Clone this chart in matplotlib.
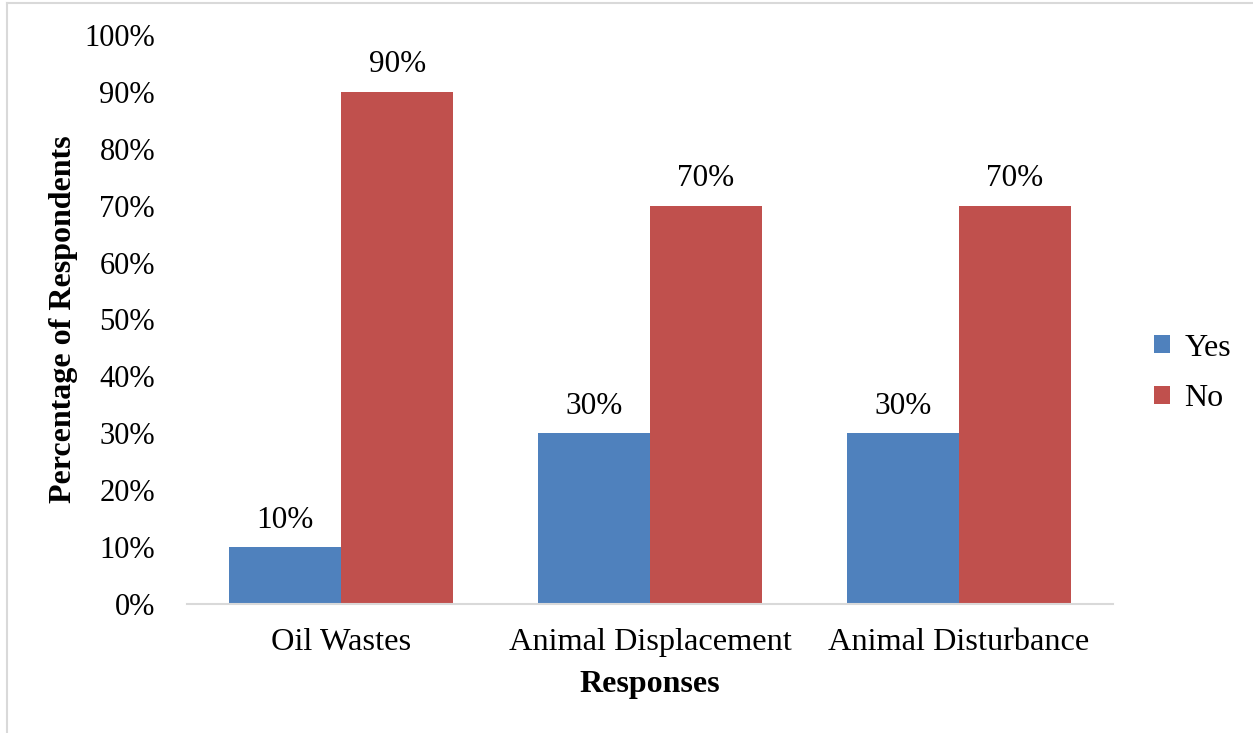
import matplotlib
matplotlib.use("Agg")
import matplotlib.pyplot as plt
import numpy as np
from matplotlib.lines import Line2D
from matplotlib.ticker import PercentFormatter

categories = ["Oil Wastes", "Animal Displacement", "Animal Disturbance"]
yes_vals = [10, 30, 30]
no_vals = [90, 70, 70]

plt.rcParams["font.family"] = ["Liberation Serif", "DejaVu Serif"]

fig = plt.figure(figsize=(12.53, 7.33), dpi=100)
ax = fig.add_axes([0.1492, 0.1760, 0.7391, 0.7763])

x = np.arange(len(categories))
w = 0.3625
b1 = ax.bar(x - w / 2, yes_vals, w, color="#4F81BD", label="Yes")
b2 = ax.bar(x + w / 2, no_vals, w, color="#C0504D", label="No")

for bars in (b1, b2):
    for r in bars:
        ax.text(r.get_x() + r.get_width() / 2, r.get_height() + 2.2,
                f"{r.get_height():.0f}%", ha="center", va="bottom", fontsize=22.5)

ax.set_xlim(-0.5, 2.5)
ax.set_ylim(0, 100)
ax.set_yticks(np.arange(0, 101, 10))
ax.yaxis.set_major_formatter(PercentFormatter(decimals=0))
ax.set_xticks(x)
ax.set_xticklabels(categories)
ax.tick_params(axis="y", length=0, labelsize=22, pad=23)
ax.tick_params(axis="x", length=0, labelsize=23.3, pad=17)

for s in ("left", "right", "top"):
    ax.spines[s].set_visible(False)
ax.spines["bottom"].set_color("#d9d9d9")
ax.spines["bottom"].set_linewidth(1.5)

ax.set_ylabel("Percentage of Respondents", fontsize=23, fontweight="bold", va="center")
ax.yaxis.set_label_coords(-0.1335, 0.5)
ax.set_xlabel("Responses", fontsize=23, fontweight="bold", va="center")
ax.xaxis.set_label_coords(0.5, -0.142)

ax.legend(loc="center left", bbox_to_anchor=(1.013, 0.405), frameon=False,
          fontsize=23, handlelength=0.5, handleheight=0.5, handletextpad=0.45,
          labelspacing=0.68)

# chart frame edges
fig.add_artist(Line2D([7 / 1253, 7 / 1253], [0, 1 - 3 / 733], color="#d9d9d9", lw=1.5))
fig.add_artist(Line2D([7 / 1253, 1], [1 - 3 / 733, 1 - 3 / 733], color="#d9d9d9", lw=1.5))

fig.savefig("out.png", dpi=100)
